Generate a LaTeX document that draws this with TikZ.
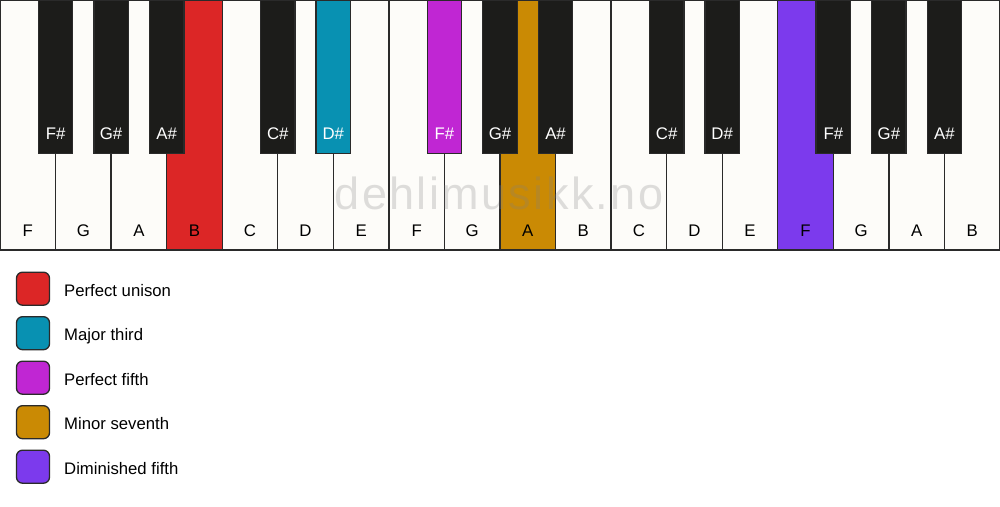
\documentclass[tikz,border=0pt]{standalone}
\usepackage{fontspec}
\setmainfont{Liberation Sans}
\definecolor{wkey}{HTML}{FDFCF9}
\definecolor{bkey}{HTML}{1C1C1A}
\definecolor{edge}{HTML}{2A2A2A}
\definecolor{cred}{HTML}{DC2626}
\definecolor{ccyan}{HTML}{0891B2}
\definecolor{cfuch}{HTML}{C026D3}
\definecolor{cyell}{HTML}{CA8A04}
\definecolor{cviol}{HTML}{7C3AED}
\begin{document}
\begin{tikzpicture}[x=1pt,y=-1pt,
  whitekey/.style={draw=edge,line width=1.3pt,fill=wkey},
  blackkey/.style={draw=edge,line width=1.3pt,fill=bkey},
  wlabel/.style={font=\fontsize{16.8}{16.8}\selectfont,text=black,anchor=base,inner sep=0pt},
  blabel/.style={font=\fontsize{16.8}{16.8}\selectfont,text=white,anchor=base,inner sep=0pt},
  legbox/.style={draw=edge,line width=1.3pt,rounded corners=6pt,minimum width=33pt,minimum height=33pt,inner sep=0pt},
  legtext/.style={font=\fontsize{16.7}{16.7}\selectfont,anchor=base west,inner sep=0pt}]
\useasboundingbox[fill=white] (0,0) rectangle (1000,506);
\def\w{55.5556}
% white keys
\foreach \n/\c [count=\i from 0] in {F/wkey,G/wkey,A/wkey,B/cred,C/wkey,D/wkey,E/wkey,F/wkey,G/wkey,A/cyell,B/wkey,C/wkey,D/wkey,E/wkey,F/cviol,G/wkey,A/wkey,B/wkey}{
  \path[whitekey,fill=\c] (\i*\w,0) rectangle ({(\i+1)*\w},250);
  \node[wlabel] (w\i) at ({(\i+0.5)*\w},236) {\n};
}
% black keys
\foreach \b/\n/\c in {1/F\#/bkey,2/G\#/bkey,3/A\#/bkey,5/C\#/bkey,6/D\#/ccyan,8/F\#/cfuch,9/G\#/bkey,10/A\#/bkey,12/C\#/bkey,13/D\#/bkey,15/F\#/bkey,16/G\#/bkey,17/A\#/bkey}{
  \path[blackkey,fill=\c] ({\b*\w-17.2},0) rectangle ({\b*\w+17.2},153.3);
  \node[blabel] (b\b) at ({\b*\w},139) {\n};
}
% outer frame
\draw[edge,line width=1.3pt] (0.6,0.6) rectangle (999.4,250);
% watermark
\node[text=gray,text opacity=0.25,font=\fontsize{45}{45}\selectfont\addfontfeature{LetterSpace=5.3},anchor=base,inner sep=0pt] (wm) at (499,209.3) {dehlimusikk.no};
% legend
\foreach \c/\t [count=\k from 0] in {cred/Perfect unison,ccyan/Major third,cfuch/Perfect fifth,cyell/Minor seventh,cviol/Diminished fifth}{
  \node[legbox,fill=\c] (l\k) at (33,{288.7+\k*44.5}) {};
  \node[legtext] (t\k) at (64,{296+\k*44.5}) {\t};
}
\end{tikzpicture}
\end{document}
